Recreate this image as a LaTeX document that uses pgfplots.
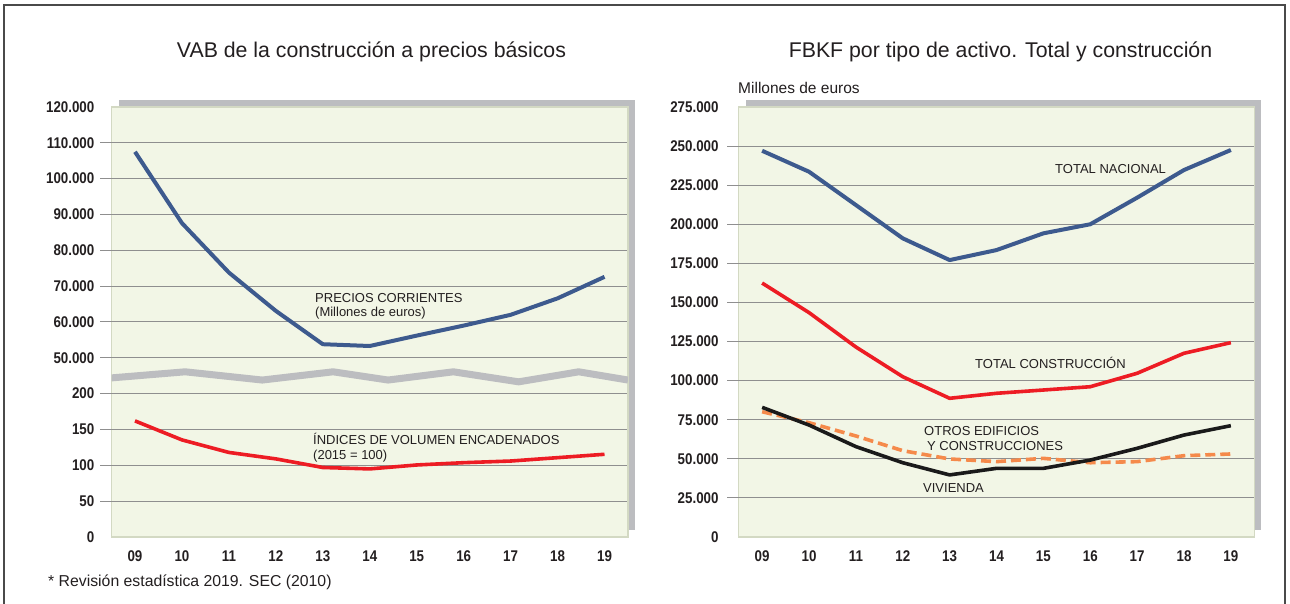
\documentclass[border=0pt]{standalone}
\usepackage{fontspec}
\setmainfont{Liberation Sans}
\newfontfamily\tickfont[FakeStretch=0.86]{Liberation Sans}
\usepackage{pgfplots}
\pgfplotsset{compat=1.18}
\definecolor{bg}{HTML}{F2F6E6}
\definecolor{bord}{HTML}{D3D9C3}
\definecolor{shadowc}{HTML}{BCBDC0}
\definecolor{gridc}{HTML}{8F8F8F}
\definecolor{txt}{HTML}{231F20}
\definecolor{framec}{HTML}{4A4A4A}
\definecolor{blueL}{HTML}{3D5A8E}
\definecolor{redL}{HTML}{ED1C24}
\definecolor{blackL}{HTML}{1A1A1A}
\definecolor{orangeL}{HTML}{F58A4B}
\pgfplotsset{
  common/.style={
    anchor=south west, scale only axis, height=430pt,
    xmin=-0.5, xmax=10.5,
    axis background/.style={fill=bg},
    axis line style={draw=bord, line width=1.2pt},
    xtick={0,...,10},
    xticklabels={09,10,11,12,13,14,15,16,17,18,19},
    major tick length=0pt,
    scaled y ticks=false, scaled x ticks=false,
    xtick style={draw=none}, ytick style={draw=none},
    ymajorgrids, grid style={gridc, line width=1pt},
    xticklabel style={font=\tickfont\bfseries\fontsize{15.5}{15.5}\selectfont, text=txt, anchor=center, inner sep=0pt, yshift=-19pt},
    yticklabel style={font=\tickfont\bfseries\fontsize{15.5}{15.5}\selectfont, text=txt, anchor=east, inner sep=0pt},
    extra y tick style={grid=none},
    clip=true,
  },
}
\tikzset{ann/.style={anchor=base west, inner sep=0pt, text=txt, font=\fontsize{13}{13}\selectfont}}
\begin{document}
\begin{tikzpicture}[x=1pt,y=1pt]
\useasboundingbox (0,0) rectangle (1290,604);
\fill[white] (0,0) rectangle (1290,604);
\draw[framec, line width=1.6pt] (4,-10) -- (4,599) -- (1285,599) -- (1285,-10);
% shadows
\fill[shadowc] (118.5,74) rectangle (635,504);
\fill[shadowc] (745.7,74) rectangle (1261.3,504);
% titles
\node[anchor=base, inner sep=0pt, text=txt, font=\fontsize{21.3}{21.3}\selectfont] at (371.5,546) {VAB de la construcción a precios básicos};
\node[anchor=base, inner sep=0pt, text=txt, font=\fontsize{21.3}{21.3}\selectfont] at (1000.5,546) {FBKF por tipo de activo. Total y construcción};
\node[anchor=base west, inner sep=0pt, text=txt, font=\fontsize{15.5}{15.5}\selectfont] at (738,510) {Millones de euros};
\node[anchor=base west, inner sep=0pt, text=txt, font=\fontsize{15.8}{15.8}\selectfont] at (48,17) {* Revisión estadística 2019. SEC (2010)};

% LEFT AXIS
\begin{axis}[common, at={(111.5pt,67pt)}, width=516.5pt,
  ymin=0, ymax=12,
  ytick={1,...,11},
  yticklabels={50,100,150,200,50.000,60.000,70.000,80.000,90.000,100.000,110.000},
  extra y ticks={0,12},
  extra y tick labels={0,120.000},
  yticklabel style={xshift=-17pt},
]
% scale break
\addplot[shadowc, line width=7pt, line join=round] coordinates {
(-0.5,4.44) (1.07,4.61) (2.71,4.38) (4.22,4.61) (5.39,4.38) (6.78,4.61) (8.17,4.33) (9.45,4.61) (10.5,4.38)};
% precios corrientes (millones de euros), plotted at v/10000
\addplot[blueL, line width=4pt, line join=round] table[x=x, y expr=\thisrow{v}/10000] {
x v
0 107500
1 87600
2 73800
3 63100
4 53800
5 53300
6 56200
7 59000
8 62000
9 66600
10 72600
};
% indices de volumen (2015=100), plotted at v/50
\addplot[redL, line width=3.6pt, line join=round] table[x=x, y expr=\thisrow{v}/50] {
x v
0 162
1 135.5
2 118
3 109
4 97
5 95
6 100.5
7 103.7
8 106
9 110.7
10 115.4
};
\end{axis}

% RIGHT AXIS
\begin{axis}[common, at={(738.7pt,67pt)}, width=515.6pt,
  ymin=0, ymax=275000,
  ytick={25000,50000,...,250000},
  yticklabels={25.000,50.000,75.000,100.000,125.000,150.000,175.000,200.000,225.000,250.000},
  extra y ticks={0,275000},
  extra y tick labels={0,275.000},
  yticklabel style={xshift=-20pt},
]
\addplot[blueL, line width=4pt, line join=round] table {
x y
0 247000
1 233600
2 212300
3 191000
4 177100
5 183500
6 194200
7 200000
8 217000
9 234700
10 247500
};
\addplot[redL, line width=3.6pt, line join=round] table {
x y
0 162400
1 143500
2 121500
3 102500
4 88700
5 91900
6 94000
7 96100
8 104700
9 117500
10 124300
};
\addplot[orangeL, line width=3.6pt, dash pattern=on 10pt off 5pt] table {
x y
0 80100
1 73100
2 64600
3 55200
4 49900
5 48200
6 50300
7 47500
8 48200
9 52000
10 53100
};
\addplot[blackL, line width=3.6pt, line join=round] table {
x y
0 82900
1 71600
2 57800
3 47500
4 39700
5 43900
6 43900
7 49200
8 56700
9 65200
10 71200
};
\end{axis}

% outward tick stubs
\foreach \k in {1,...,11} \draw[gridc, line width=1pt] (100,{67+\k*35.8333}) -- (111.5,{67+\k*35.8333});
\foreach \k in {1,...,10} \draw[gridc, line width=1pt] (727,{67+\k*39.0909}) -- (738.7,{67+\k*39.0909});

% annotations
\node[ann] at (315,301) {PRECIOS CORRIENTES};
\node[ann] at (315,287) {(Millones de euros)};
\node[ann] at (313,159) {ÍNDICES DE VOLUMEN ENCADENADOS};
\node[ann] at (313,144) {(2015 = 100)};
\node[ann] at (1055,430) {TOTAL NACIONAL};
\node[ann] at (975,235) {TOTAL CONSTRUCCIÓN};
\node[ann] at (924,168) {OTROS EDIFICIOS};
\node[ann] at (927,153) {Y CONSTRUCCIONES};
\node[ann] at (923,111) {VIVIENDA};
\end{tikzpicture}
\end{document}
